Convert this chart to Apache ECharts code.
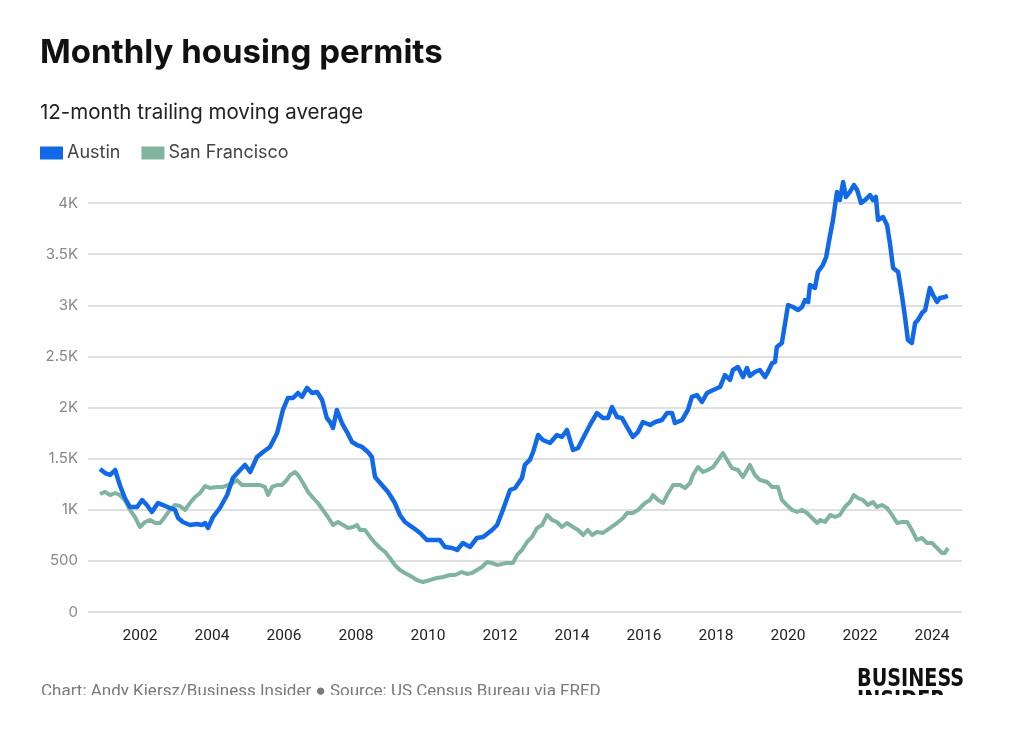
<!DOCTYPE html>
<html>
<head>
<meta charset="utf-8">
<title>Monthly housing permits</title>
<script src="https://cdn.jsdelivr.net/npm/echarts@6/dist/echarts.min.js"></script>
<style>
    html, body { margin: 0; padding: 0; background: #ffffff; }
    #frame { width: 1024px; height: 695px; overflow: hidden; position: relative; }
    #chart { width: 1024px; height: 732px; }
</style>
</head>
<body>
<div id="frame"><div id="chart"></div></div>
<script>
// decimal years and 12-month trailing averages
const austinYears = [
    2000.89, 2001.03, 2001.17, 2001.31, 2001.44, 2001.58, 2001.72, 2001.92, 2002.06, 2002.19,
    2002.33, 2002.50, 2002.64, 2002.83, 2002.97, 2003.06, 2003.19, 2003.39, 2003.58, 2003.72,
    2003.81, 2003.89, 2004.03, 2004.22, 2004.42, 2004.58, 2004.78, 2004.92, 2005.06, 2005.25,
    2005.42, 2005.61, 2005.81, 2005.97, 2006.11, 2006.25, 2006.39, 2006.50, 2006.64, 2006.78,
    2006.92, 2007.06, 2007.19, 2007.28, 2007.36, 2007.47, 2007.61, 2007.75, 2007.89, 2008.03,
    2008.17, 2008.33, 2008.44, 2008.53, 2008.67, 2008.89, 2009.08, 2009.22, 2009.36, 2009.56,
    2009.78, 2009.97, 2010.14, 2010.33, 2010.47, 2010.67, 2010.81, 2010.97, 2011.17, 2011.36,
    2011.53, 2011.78, 2011.92, 2012.08, 2012.28, 2012.42, 2012.61, 2012.69, 2012.83, 2012.92,
    2013.06, 2013.19, 2013.39, 2013.58, 2013.72, 2013.86, 2014.03, 2014.17, 2014.31, 2014.50,
    2014.69, 2014.86, 2015.00, 2015.11, 2015.25, 2015.39, 2015.53, 2015.69, 2015.83, 2015.97,
    2016.17, 2016.31, 2016.50, 2016.64, 2016.78, 2016.86, 2017.06, 2017.22, 2017.33, 2017.47,
    2017.61, 2017.75, 2017.92, 2018.11, 2018.25, 2018.39, 2018.47, 2018.61, 2018.75, 2018.86,
    2018.94, 2019.08, 2019.22, 2019.36, 2019.44, 2019.56, 2019.64, 2019.69, 2019.83, 2019.92,
    2020.00, 2020.14, 2020.28, 2020.39, 2020.47, 2020.56, 2020.61, 2020.75, 2020.83, 2020.97,
    2021.06, 2021.17, 2021.25, 2021.36, 2021.44, 2021.53, 2021.61, 2021.72, 2021.83, 2021.92,
    2022.03, 2022.14, 2022.28, 2022.36, 2022.44, 2022.50, 2022.64, 2022.75, 2022.83, 2022.92,
    2023.06, 2023.17, 2023.25, 2023.33, 2023.44, 2023.53, 2023.61, 2023.72, 2023.81, 2023.94,
    2024.03, 2024.14, 2024.22, 2024.36, 2024.44
];
const austinValues = [
    1398, 1359, 1340, 1389, 1242, 1115, 1027, 1027, 1095, 1046,
    978, 1066, 1046, 1017, 998, 919, 880, 851, 861, 851,
    870, 822, 929, 1017, 1144, 1311, 1389, 1438, 1369, 1516,
    1565, 1614, 1751, 1976, 2093, 2093, 2142, 2103, 2191, 2142,
    2152, 2073, 1897, 1858, 1800, 1976, 1848, 1760, 1663, 1633,
    1614, 1565, 1516, 1320, 1262, 1174, 1066, 949, 880, 831,
    773, 704, 704, 704, 636, 626, 606, 675, 636, 724,
    734, 802, 851, 998, 1193, 1213, 1311, 1438, 1487, 1565,
    1731, 1682, 1653, 1731, 1712, 1780, 1584, 1604, 1702, 1829,
    1946, 1897, 1897, 2005, 1907, 1897, 1809, 1712, 1760, 1858,
    1829, 1858, 1878, 1946, 1946, 1848, 1878, 1976, 2103, 2122,
    2054, 2142, 2171, 2200, 2318, 2269, 2367, 2396, 2298, 2386,
    2308, 2347, 2367, 2298, 2347, 2435, 2445, 2592, 2631, 2826,
    3002, 2983, 2953, 2983, 3051, 3032, 3198, 3169, 3325, 3394,
    3472, 3687, 3834, 4108, 4029, 4205, 4059, 4108, 4176, 4127,
    4000, 4029, 4078, 4029, 4059, 3834, 3863, 3785, 3609, 3364,
    3325, 3081, 2885, 2660, 2631, 2826, 2856, 2924, 2953, 3169,
    3100, 3032, 3071, 3081, 3091
];

const sfYears = [
    2000.89, 2001.03, 2001.17, 2001.31, 2001.44, 2001.58, 2001.72, 2001.86, 2002.00, 2002.14,
    2002.28, 2002.42, 2002.56, 2002.69, 2002.83, 2002.97, 2003.11, 2003.25, 2003.39, 2003.53,
    2003.67, 2003.81, 2003.94, 2004.14, 2004.31, 2004.44, 2004.58, 2004.69, 2004.83, 2004.97,
    2005.14, 2005.33, 2005.47, 2005.56, 2005.67, 2005.81, 2005.94, 2006.08, 2006.17, 2006.31,
    2006.39, 2006.53, 2006.67, 2006.81, 2006.94, 2007.08, 2007.22, 2007.36, 2007.50, 2007.64,
    2007.78, 2007.92, 2008.03, 2008.11, 2008.25, 2008.39, 2008.53, 2008.67, 2008.81, 2008.94,
    2009.08, 2009.22, 2009.36, 2009.56, 2009.69, 2009.86, 2010.06, 2010.25, 2010.42, 2010.61,
    2010.75, 2010.94, 2011.08, 2011.22, 2011.36, 2011.50, 2011.64, 2011.78, 2011.92, 2012.06,
    2012.19, 2012.36, 2012.47, 2012.61, 2012.75, 2012.89, 2013.03, 2013.17, 2013.31, 2013.44,
    2013.58, 2013.72, 2013.86, 2014.03, 2014.17, 2014.31, 2014.44, 2014.56, 2014.69, 2014.86,
    2015.06, 2015.25, 2015.42, 2015.53, 2015.69, 2015.83, 2016.03, 2016.17, 2016.25, 2016.39,
    2016.53, 2016.64, 2016.81, 2017.00, 2017.14, 2017.28, 2017.36, 2017.50, 2017.64, 2017.78,
    2017.92, 2018.06, 2018.19, 2018.31, 2018.44, 2018.61, 2018.75, 2018.94, 2019.08, 2019.22,
    2019.42, 2019.56, 2019.72, 2019.83, 2019.97, 2020.11, 2020.25, 2020.39, 2020.53, 2020.67,
    2020.81, 2020.89, 2021.03, 2021.17, 2021.31, 2021.44, 2021.58, 2021.72, 2021.83, 2021.94,
    2022.08, 2022.22, 2022.36, 2022.47, 2022.61, 2022.75, 2022.89, 2023.03, 2023.17, 2023.31,
    2023.44, 2023.58, 2023.72, 2023.86, 2024.00, 2024.14, 2024.28, 2024.36, 2024.44
];
const sfValues = [
    1154, 1174, 1144, 1164, 1144, 1095, 998, 929, 831, 880,
    900, 870, 870, 929, 998, 1046, 1037, 998, 1066, 1125,
    1164, 1232, 1213, 1223, 1223, 1242, 1262, 1291, 1242, 1242,
    1242, 1242, 1223, 1144, 1223, 1242, 1242, 1291, 1340, 1369,
    1340, 1262, 1174, 1115, 1066, 998, 929, 851, 880, 851,
    822, 831, 851, 802, 802, 734, 675, 626, 587, 528,
    460, 411, 381, 342, 313, 293, 313, 333, 342, 362,
    362, 391, 372, 381, 411, 440, 489, 479, 460, 470,
    480, 479, 557, 606, 685, 734, 822, 851, 949, 900,
    880, 831, 870, 831, 802, 753, 802, 753, 782, 773,
    822, 870, 919, 968, 968, 998, 1066, 1095, 1144, 1095,
    1066, 1144, 1242, 1242, 1213, 1262, 1340, 1418, 1369, 1389,
    1418, 1487, 1555, 1487, 1408, 1389, 1320, 1438, 1340, 1291,
    1271, 1223, 1223, 1095, 1046, 998, 978, 998, 968, 919,
    870, 900, 880, 949, 929, 949, 1027, 1076, 1144, 1115,
    1095, 1046, 1076, 1027, 1046, 1017, 949, 870, 880, 880,
    802, 704, 724, 675, 675, 626, 577, 577, 626
];

const yearTicks = [2002, 2004, 2006, 2008, 2010, 2012, 2014, 2016, 2018, 2020, 2022, 2024];
const seriesNames = ['Austin', 'San Francisco'];
const seriesColors = ['#1169e8', '#80b4a0'];

function formatThousands(value) {
    if (value === 0) {
        return '0';
    }
    return value >= 1000 ? (value / 1000) + 'K' : String(value);
}

function pairUp(xs, ys) {
    return xs.map((x, index) => [x, ys[index]]);
}

const chart = echarts.init(document.getElementById('chart'), null, { renderer: 'canvas' });

chart.setOption({
    backgroundColor: '#ffffff',
    animation: false,
    textStyle: { fontFamily: 'Inter, Roboto, sans-serif' },
    title: [{
        text: 'Monthly housing permits',
        left: 40,
        top: 37,
        padding: 0,
        textStyle: { fontSize: 33, fontWeight: 700, color: '#111111', fontFamily: 'Inter' },
    }, {
        text: '12-month trailing moving average',
        left: 40,
        top: 102,
        padding: 0,
        textStyle: { fontSize: 20.5, fontWeight: 400, color: '#222222', fontFamily: 'Inter' },
    }],
    legend: {
        left: 40,
        top: 144,
        padding: 0,
        icon: 'rect',
        itemWidth: 23,
        itemHeight: 13,
        itemGap: 21,
        data: seriesNames,
        textStyle: { fontSize: 18, color: '#444444', fontFamily: 'Inter', padding: [0, 0, 0, -1] },
    },
    grid: {
        left: 88,
        right: 62,
        top: 203,
        bottom: 120,
    },
    xAxis: {
        type: 'value',
        min: 2000.556,
        max: 2024.833,
        axisLine: { show: false },
        axisTick: { show: false },
        splitLine: { show: false },
        axisLabel: {
            customValues: yearTicks,
            color: '#222222',
            fontSize: 15.5,
            margin: 16,
            fontFamily: 'Roboto',
            formatter: (value) => String(Math.round(value)),
        },
    },
    yAxis: {
        type: 'value',
        min: 0,
        max: 4000,
        interval: 500,
        axisLine: { show: false },
        axisTick: { show: false },
        axisLabel: {
            color: '#888888',
            fontSize: 15,
            margin: 10,
            fontFamily: 'Inter',
            formatter: formatThousands,
        },
        splitLine: { lineStyle: { color: '#d6d6d6', width: 1.5 } },
    },
    series: [{
        name: seriesNames[0],
        type: 'line',
        data: pairUp(austinYears, austinValues),
        showSymbol: false,
        clip: false,
        z: 3,
        itemStyle: { color: seriesColors[0] },
        lineStyle: { color: seriesColors[0], width: 4.5, join: 'round' },
    }, {
        name: seriesNames[1],
        type: 'line',
        data: pairUp(sfYears, sfValues),
        showSymbol: false,
        clip: false,
        z: 2,
        itemStyle: { color: seriesColors[1] },
        lineStyle: { color: seriesColors[1], width: 4, join: 'round' },
    }],
    graphic: [{
        type: 'text',
        left: 41,
        top: 683,
        style: {
            text: 'Chart: Andy Kiersz/Business Insider \u25CF Source: US Census Bureau via FRED',
            fill: '#7a7a7a',
            fontSize: 17,
            fontFamily: 'Roboto',
        },
    }, {
        type: 'text',
        x: 857,
        y: 669,
        scaleX: 0.89,
        style: {
            text: 'BUSINESS\nINSIDER',
            fill: '#111111',
            fontSize: 24,
            fontWeight: 900,
            lineHeight: 22,
            fontFamily: 'DejaVu Sans Condensed',
        },
    }],
});
</script>
</body>
</html>
